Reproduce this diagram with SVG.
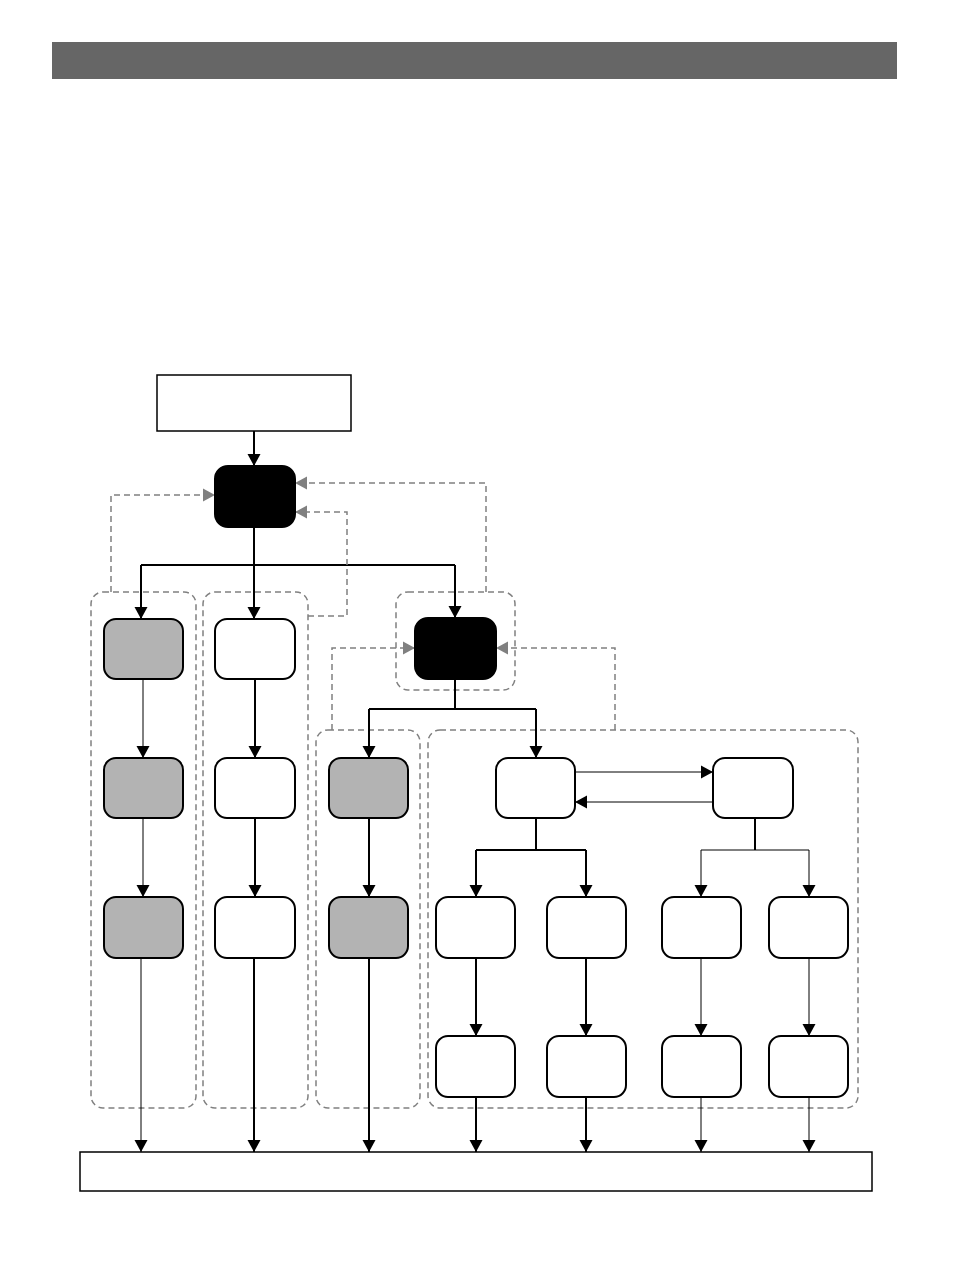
<svg xmlns="http://www.w3.org/2000/svg" width="954" height="1272" viewBox="0 0 954 1272">
<style>
.n{stroke:#000;stroke-width:2}
.w{fill:#fff}
.g{fill:#b3b3b3}
.b{fill:#000}
.grp{fill:none;stroke:#808080;stroke-width:1.5;stroke-dasharray:6 4}
.c{fill:none;stroke:#000;stroke-width:2}
.t{fill:none;stroke:#000;stroke-width:1}
.d{fill:none;stroke:#808080;stroke-width:1.5;stroke-dasharray:6 4}
</style>
<defs>
<marker id="a" markerUnits="userSpaceOnUse" markerWidth="14" markerHeight="14" viewBox="0 0 14 14" refX="13" refY="7" orient="auto"><path d="M1,0.5 L13,7 L1,13.5 Z" fill="#000"/></marker>
<marker id="ag" markerUnits="userSpaceOnUse" markerWidth="14" markerHeight="14" viewBox="0 0 14 14" refX="13" refY="7" orient="auto"><path d="M1,0.5 L13,7 L1,13.5 Z" fill="#808080"/></marker>
</defs>
<rect x="0" y="0" width="954" height="1272" fill="#fff"/>
<rect id="header" x="52" y="42" width="845" height="37" fill="#666"/>

<g id="groups">
<rect id="grp1" class="grp" x="91" y="592" width="105" height="516" rx="12"/>
<rect id="grp2" class="grp" x="203" y="592" width="105" height="516" rx="12"/>
<rect id="grp3" class="grp" x="316" y="730" width="104" height="378" rx="12"/>
<rect id="grp4" class="grp" x="428" y="730" width="430" height="378" rx="12"/>
<rect id="grp5" class="grp" x="396" y="592" width="119" height="98" rx="12"/>
</g>

<g id="connectors">
<path class="c" d="M254,431 V466" marker-end="url(#a)"/>
<path class="c" d="M254,527 V565 M141,565 H455"/>
<path class="c" d="M141,565 V619" marker-end="url(#a)"/>
<path class="c" d="M254,565 V619" marker-end="url(#a)"/>
<path class="c" d="M455,565 V618" marker-end="url(#a)"/>
<path class="t" d="M143,679 V758" marker-end="url(#a)"/>
<path class="t" d="M143,818 V897" marker-end="url(#a)"/>
<path class="t" d="M141,958 V1152" marker-end="url(#a)"/>
<path class="c" d="M255,679 V758" marker-end="url(#a)"/>
<path class="c" d="M255,818 V897" marker-end="url(#a)"/>
<path class="c" d="M254,958 V1152" marker-end="url(#a)"/>
<path class="c" d="M455,679 V709 M369,709 H536"/>
<path class="c" d="M369,709 V758" marker-end="url(#a)"/>
<path class="c" d="M536,709 V758" marker-end="url(#a)"/>
<path class="c" d="M369,818 V897" marker-end="url(#a)"/>
<path class="c" d="M369,958 V1152" marker-end="url(#a)"/>
<path class="t" d="M575,772 H713" marker-end="url(#a)"/>
<path class="t" d="M713,802 H575" marker-end="url(#a)"/>
<path class="c" d="M536,818 V850 M476,850 H586"/>
<path class="c" d="M476,850 V897" marker-end="url(#a)"/>
<path class="c" d="M586,850 V897" marker-end="url(#a)"/>
<path class="c" d="M755,818 V850"/>
<path class="t" d="M701,850 H809"/>
<path class="t" d="M701,850 V897" marker-end="url(#a)"/>
<path class="t" d="M809,850 V897" marker-end="url(#a)"/>
<path class="c" d="M476,958 V1036" marker-end="url(#a)"/>
<path class="c" d="M586,958 V1036" marker-end="url(#a)"/>
<path class="t" d="M701,958 V1036" marker-end="url(#a)"/>
<path class="t" d="M809,958 V1036" marker-end="url(#a)"/>
<path class="c" d="M476,1097 V1152" marker-end="url(#a)"/>
<path class="c" d="M586,1097 V1152" marker-end="url(#a)"/>
<path class="t" d="M701,1097 V1152" marker-end="url(#a)"/>
<path class="t" d="M809,1097 V1152" marker-end="url(#a)"/>
<path class="d" d="M111,592 V495 H215" marker-end="url(#ag)"/>
<path class="d" d="M308,616 H347 V512 H295" marker-end="url(#ag)"/>
<path class="d" d="M486,592 V483 H295" marker-end="url(#ag)"/>
<path class="d" d="M332,730 V648 H415" marker-end="url(#ag)"/>
<path class="d" d="M615,730 V648 H496" marker-end="url(#ag)"/>
</g>

<g id="top"><rect x="157" y="375" width="194" height="56" fill="#fff" stroke="#000" stroke-width="1.5"/></g>
<g id="root"><rect class="n b" x="215" y="466" width="80" height="61" rx="13"/></g>
<g id="c1r1"><rect class="n g" x="104" y="619" width="79" height="60" rx="12"/></g>
<g id="c1r2"><rect class="n g" x="104" y="758" width="79" height="60" rx="12"/></g>
<g id="c1r3"><rect class="n g" x="104" y="897" width="79" height="61" rx="12"/></g>
<g id="c2r1"><rect class="n w" x="215" y="619" width="80" height="60" rx="12"/></g>
<g id="c2r2"><rect class="n w" x="215" y="758" width="80" height="60" rx="12"/></g>
<g id="c2r3"><rect class="n w" x="215" y="897" width="80" height="61" rx="12"/></g>
<g id="hub"><rect class="n b" x="415" y="618" width="81" height="61" rx="13"/></g>
<g id="c3r2"><rect class="n g" x="329" y="758" width="79" height="60" rx="12"/></g>
<g id="c3r3"><rect class="n g" x="329" y="897" width="79" height="61" rx="12"/></g>
<g id="nA"><rect class="n w" x="496" y="758" width="79" height="60" rx="12"/></g>
<g id="nB"><rect class="n w" x="713" y="758" width="80" height="60" rx="12"/></g>
<g id="r3a"><rect class="n w" x="436" y="897" width="79" height="61" rx="12"/></g>
<g id="r3b"><rect class="n w" x="547" y="897" width="79" height="61" rx="12"/></g>
<g id="r3c"><rect class="n w" x="662" y="897" width="79" height="61" rx="12"/></g>
<g id="r3d"><rect class="n w" x="769" y="897" width="79" height="61" rx="12"/></g>
<g id="r4a"><rect class="n w" x="436" y="1036" width="79" height="61" rx="12"/></g>
<g id="r4b"><rect class="n w" x="547" y="1036" width="79" height="61" rx="12"/></g>
<g id="r4c"><rect class="n w" x="662" y="1036" width="79" height="61" rx="12"/></g>
<g id="r4d"><rect class="n w" x="769" y="1036" width="79" height="61" rx="12"/></g>
<g id="bottom"><rect x="80" y="1152" width="792" height="39" fill="#fff" stroke="#000" stroke-width="1.5"/></g>
</svg>
